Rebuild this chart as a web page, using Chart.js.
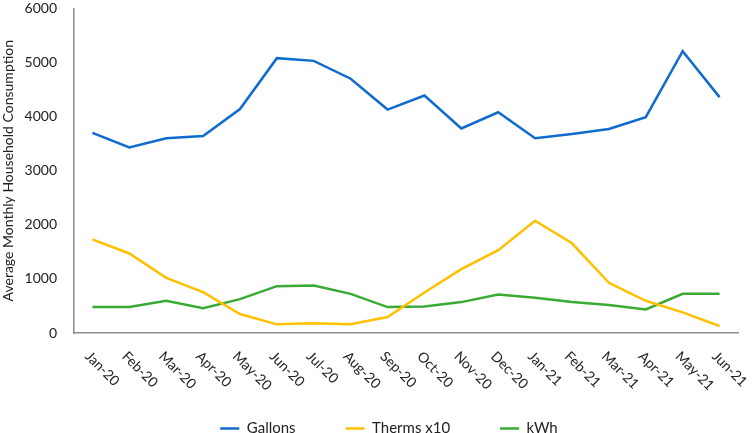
<!DOCTYPE html>
<html>
<head>
<meta charset="utf-8">
<script src="https://cdn.jsdelivr.net/npm/chart.js@4/dist/chart.umd.min.js"></script>
<style>
  html, body { margin: 0; padding: 0; background: #fff; }
  #wrap { width: 754px; height: 433px; position: relative; }
</style>
</head>
<body>
<div id="wrap"><canvas id="chart"></canvas></div>
<script>
const months = ['Jan-20', 'Feb-20', 'Mar-20', 'Apr-20', 'May-20', 'Jun-20', 'Jul-20', 'Aug-20', 'Sep-20',
  'Oct-20', 'Nov-20', 'Dec-20', 'Jan-21', 'Feb-21', 'Mar-21', 'Apr-21', 'May-21', 'Jun-21'];
const gallons = [3700, 3430, 3600, 3640, 4140, 5080, 5030, 4700, 4130, 4390, 3780, 4080, 3600, 3680, 3770, 3990, 5210, 4360];
const thermsX10 = [1730, 1470, 1020, 755, 350, 160, 178, 160, 295, 750, 1180, 1530, 2076, 1658, 927, 595, 381, 129];
const kwh = [479, 479, 595, 460, 626, 866, 878, 724, 479, 491, 571, 713, 651, 571, 516, 436, 724, 724];
const yTicks = [0, 1000, 2000, 3000, 4000, 5000, 6000];
const seriesColors = ['#0f6bcf', '#ffc000', '#3aaa35'];

const FONT = 'Lato, "Open Sans", sans-serif';
const TEXT = '#222';
const AXIS = '#8c8c8c';

// x labels run top-left to bottom-right, which Chart.js can't do itself
const slantedLabels = {
  id: 'slantedLabels',
  afterDraw(chart) {
    const scale = chart.scales.x;
    const ctx = chart.ctx;
    ctx.save();
    ctx.font = '14px ' + FONT;
    ctx.fillStyle = TEXT;
    ctx.textAlign = 'left';
    ctx.textBaseline = 'middle';
    months.forEach((label, i) => {
      const x = scale.getPixelForTick(i);
      ctx.save();
      ctx.translate(x - 5, scale.top + 21);
      ctx.rotate(Math.PI / 4);
      ctx.fillText(label, 0, 0);
      ctx.restore();
    });
    ctx.restore();
  }
};

// keep the wide item spacing without the legend eating vertical room
const legendBox = {
  id: 'legendBox',
  beforeInit(chart) {
    const legend = chart.legend;
    if (!legend) return;
    const fit = legend.fit;
    legend.fit = function () {
      fit.call(this);
      this.height = 62;
    };
  },
  afterLayout(chart) {
    const legend = chart.legend;
    if (!legend) return;
    legend.left += 20;
    legend.right += 20;
  }
};

new Chart(document.getElementById('chart'), {
  type: 'line',
  data: {
    labels: months,
    datasets: [
      { label: 'Gallons', data: gallons, borderColor: seriesColors[0], backgroundColor: seriesColors[0], borderWidth: 2.5 },
      { label: 'Therms x10', data: thermsX10, borderColor: seriesColors[1], backgroundColor: seriesColors[1], borderWidth: 2.5 },
      { label: 'kWh', data: kwh, borderColor: seriesColors[2], backgroundColor: seriesColors[2], borderWidth: 2.5 }
    ]
  },
  options: {
    responsive: true,
    maintainAspectRatio: false,
    animation: false,
    layout: { padding: { top: 0, right: 16, left: 0, bottom: 0 } },
    elements: {
      line: { tension: 0 },
      point: { radius: 0, hoverRadius: 0 }
    },
    plugins: {
      tooltip: { enabled: false },
      legend: {
        position: 'bottom',
        labels: {
          usePointStyle: true,
          pointStyle: 'line',
          pointStyleWidth: 19,
          boxHeight: 10,
          padding: 50,
          color: TEXT,
          font: { family: FONT, size: 15 },
          generateLabels: (chart) => chart.data.datasets.map((ds, i) => ({
            text: ds.label,
            datasetIndex: i,
            strokeStyle: seriesColors[i],
            fillStyle: seriesColors[i],
            fontColor: TEXT,
            lineWidth: 2.5,
            pointStyle: 'line',
            hidden: false
          }))
        }
      }
    },
    scales: {
      x: {
        offset: true,
        grid: { display: false },
        border: { display: true, color: AXIS, width: 1.5 },
        ticks: { display: false },
        afterFit: (axis) => { axis.height = 38; }
      },
      y: {
        min: yTicks[0],
        max: yTicks[yTicks.length - 1],
        afterBuildTicks: (axis) => { axis.ticks = yTicks.map((v) => ({ value: v })); },
        afterFit: (axis) => { axis.width = 74; },
        // hidden tick marks give the label gap without padding the top of the axis
        grid: { display: false, drawTicks: true, tickLength: 17 },
        border: { display: true, color: AXIS, width: 1.5 },
        ticks: {
          color: TEXT,
          padding: 0,
          font: { family: FONT, size: 14 },
          callback: (value) => String(value)
        },
        title: {
          display: true,
          text: 'Average Monthly Household Consumption',
          color: TEXT,
          font: { family: FONT, size: 14 },
          padding: { top: 0, bottom: 0 }
        }
      }
    }
  },
  plugins: [slantedLabels, legendBox]
});
</script>
</body>
</html>
